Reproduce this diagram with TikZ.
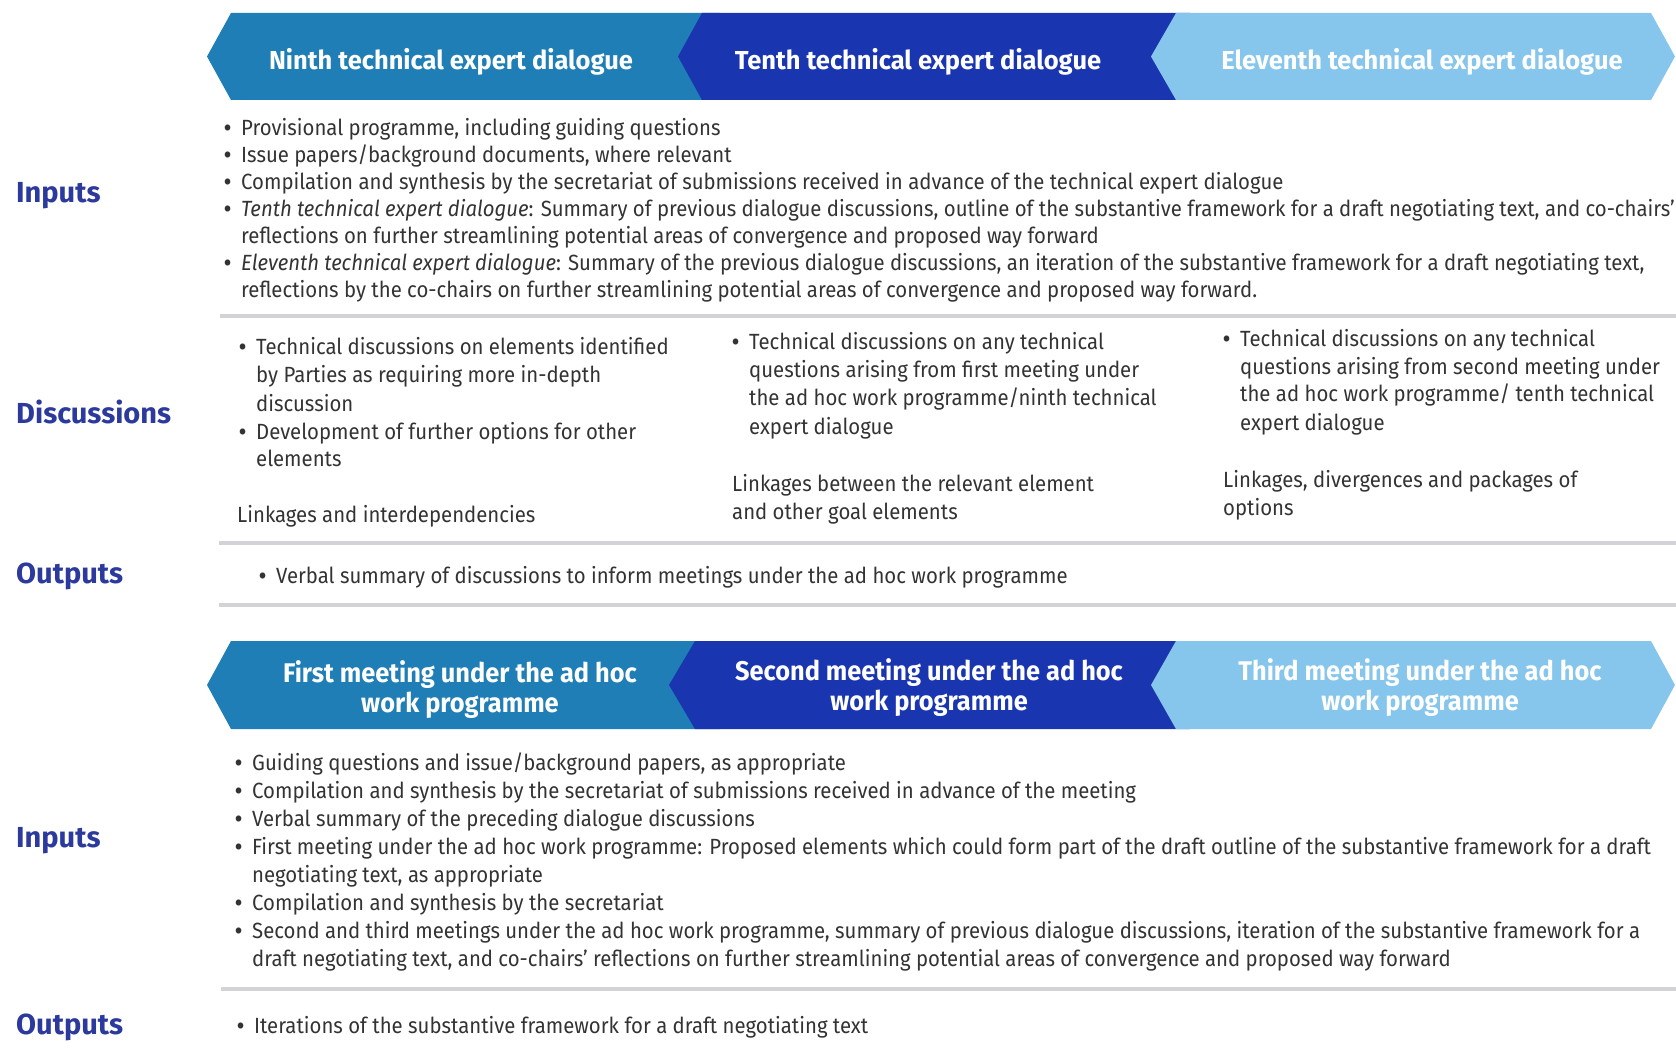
\documentclass[tikz,border=0pt]{standalone}
\usepackage{fontspec}
\setmainfont{Fira Sans}[FakeStretch=0.925]
\newfontfamily\banfam{Fira Sans}[FakeStretch=0.98]
\newfontfamily\banfamb{Fira Sans}[FakeStretch=0.94]
\newfontfamily\lblfam{Fira Sans}
\definecolor{bodygray}{HTML}{333333}
\definecolor{lblblue}{HTML}{2B3A9C}
\definecolor{sepgray}{HTML}{D3D2D7}
\definecolor{bana}{HTML}{1F7EB5}
\definecolor{banb}{HTML}{1A35B0}
\definecolor{banc}{HTML}{86C6EC}
\tikzset{
  body/.style={anchor=base west, inner sep=0pt, yshift=-3pt, font=\fontsize{22}{27}\selectfont, text=bodygray},
  lbl/.style={anchor=base west, inner sep=0pt, yshift=-1.5pt, font=\lblfam\fontsize{29}{32}\selectfont\bfseries, text=lblblue},
  sepline/.style={line width=4pt, draw=sepgray},
  bantxt/.style={inner sep=0pt, text=white, align=center, font=\banfam\fontsize{26}{30}\selectfont\bfseries},
  bantxtb/.style={inner sep=0pt, text=white, align=center, font=\banfamb\fontsize{27}{30}\selectfont\bfseries},
}
\newcommand{\bl}[4]{\node[body] (#1b) at (#2,#4) {\bfseries •};\node[body] (#1) at (#2+17,#4) {#3};}
\newcommand{\tl}[4]{\node[body] (#1) at (#2,#3) {#4};}
\begin{document}
\begin{tikzpicture}[x=1pt,y=-1pt]
\useasboundingbox (0,0) rectangle (1676,1056);
% top banner
\fill[bana] (231,13) -- (720,13) -- (720,100) -- (231,100) -- (207,56.5) -- cycle;
\fill[banb] (702,13) -- (1190,13) -- (1190,100) -- (702,100) -- (678,56.5) -- cycle;
\fill[banc] (1176,13) -- (1651,13) -- (1675,56.5) -- (1651,100) -- (1176,100) -- (1151,56.5) -- cycle;
\node[bantxt] (t1) at (451,62) {Ninth technical expert dialogue};
\node[bantxt] (t2) at (918,62) {Tenth technical expert dialogue};
\node[bantxt] (t3) at (1422,62) {Eleventh technical expert dialogue};
% bottom banner
\fill[bana] (231,641) -- (720,641) -- (720,729) -- (231,729) -- (207,685) -- cycle;
\fill[banb] (695,641) -- (1190,641) -- (1190,729) -- (695,729) -- (669,685) -- cycle;
\fill[banc] (1176,641) -- (1651,641) -- (1675,685) -- (1651,729) -- (1176,729) -- (1151,685) -- cycle;
\node[bantxtb] (m1) at (460,690) {First meeting under the ad hoc\\work programme};
\node[bantxtb] (m2) at (929,688) {Second meeting under the ad hoc\\work programme};
\node[bantxtb] (m3) at (1420,688) {Third meeting under the ad hoc\\work programme};
% separators
\draw[sepline] (220,316) -- (1676,316);
\draw[sepline] (219,543) -- (1676,543);
\draw[sepline] (219,605) -- (1676,605);
\draw[sepline] (221,989) -- (1676,989);
% labels
\node[lbl] (L1) at (16,201) {Inputs};
\node[lbl] (L2) at (16,422) {Discussions};
\node[lbl] (L3) at (16,582) {Outputs};
\node[lbl] (L4) at (16,846) {Inputs};
\node[lbl] (L5) at (16,1033) {Outputs};
% top inputs
\bl{a1}{224}{Provisional programme, including guiding questions}{133}
\bl{a2}{224}{Issue papers/background documents, where relevant}{160}
\bl{a3}{224}{Compilation and synthesis by the secretariat of submissions received in advance of the technical expert dialogue}{187}
\bl{a4}{224}{\textit{Tenth technical expert dialogue}: Summary of previous dialogue discussions, outline of the substantive framework for a draft negotiating text, and co-chairs’}{214}
\tl{a5}{241}{241}{reflections on further streamlining potential areas of convergence and proposed way forward}
\bl{a6}{224}{\textit{Eleventh technical expert dialogue}: Summary of the previous dialogue discussions, an iteration of the substantive framework for a draft negotiating text,}{268}
\tl{a7}{241}{295}{reflections by the co-chairs on further streamlining potential areas of convergence and proposed way forward.}
% discussions col 1
\bl{c1}{239}{Technical discussions on elements identified}{352}
\tl{c2}{256}{380}{by Parties as requiring more in-depth}
\tl{c3}{256}{408}{discussion}
\bl{c4}{239}{Development of further options for other}{436}
\tl{c5}{256}{463}{elements}
\tl{c6}{237}{519}{Linkages and interdependencies}
% col 2
\bl{d1}{732}{Technical discussions on any technical}{347}
\tl{d2}{749}{375}{questions arising from first meeting under}
\tl{d3}{749}{403}{the ad hoc work programme/ninth technical}
\tl{d4}{749}{431}{expert dialogue}
\tl{d5}{732}{488}{Linkages between the relevant element}
\tl{d6}{732}{516}{and other goal elements}
% col 3
\bl{e1}{1223}{Technical discussions on any technical}{344}
\tl{e2}{1240}{372}{questions arising from second meeting under}
\tl{e3}{1240}{399}{the ad hoc work programme/ tenth technical}
\tl{e4}{1240}{427}{expert dialogue}
\tl{e5}{1223}{484}{Linkages, divergences and packages of}
\tl{e6}{1223}{512}{options}
% outputs
\bl{o1}{259}{Verbal summary of discussions to inform meetings under the ad hoc work programme}{580}
% bottom inputs
\bl{g1}{235}{Guiding questions and issue/background papers, as appropriate}{767}
\bl{g2}{235}{Compilation and synthesis by the secretariat of submissions received in advance of the meeting}{795}
\bl{g3}{235}{Verbal summary of the preceding dialogue discussions}{823}
\bl{g4}{235}{First meeting under the ad hoc work programme: Proposed elements which could form part of the draft outline of the substantive framework for a draft}{851}
\tl{g5}{252}{879}{negotiating text, as appropriate}
\bl{g6}{235}{Compilation and synthesis by the secretariat}{907}
\bl{g7}{235}{Second and third meetings under the ad hoc work programme, summary of previous dialogue discussions, iteration of the substantive framework for a}{935}
\tl{g8}{252}{963}{draft negotiating text, and co-chairs’ reflections on further streamlining potential areas of convergence and proposed way forward}
% bottom outputs
\bl{h1}{237}{Iterations of the substantive framework for a draft negotiating text}{1030}
\end{tikzpicture}
\end{document}
